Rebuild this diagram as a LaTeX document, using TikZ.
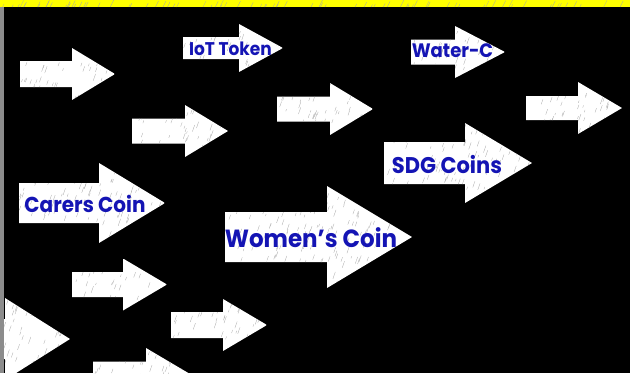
\documentclass[tikz,border=0pt]{standalone}
\usepackage{fontspec}
\setmainfont{Poppins}
\definecolor{bandyellow}{RGB}{255,255,0}
\definecolor{stripgray}{RGB}{140,140,140}
\definecolor{coinblue}{RGB}{20,20,180}
\tikzset{
  scratch/.style={draw=black!35, line width=0.3pt},
  coinlabel/.style={text=coinblue, font=\bfseries, inner sep=0pt, anchor=center, yscale=1.08},
}
% #1 tail x, #2 head base x, #3 tip x, #4 centre y, #5 shaft half height, #6 head half height
\newcommand\fatarrow[6]{%
  \begin{scope}
    \path[clip] (#1,#4-#5) -- (#2,#4-#5) -- (#2,#4-#6) -- (#3,#4) -- (#2,#4+#6) -- (#2,#4+#5) -- (#1,#4+#5) -- cycle;
    \fill[white] (#1,#4-#6) rectangle (#3,#4+#6);
    \pgfmathtruncatemacro\nscr{(#3-#1)*#6/45}
    \foreach \k in {1,...,\nscr}{%
      \pgfmathsetmacro\px{#1+rnd*(#3-#1)}%
      \pgfmathsetmacro\py{#4-#6+rnd*2*#6}%
      \pgfmathsetmacro\pl{2+rnd*5}%
      \draw[scratch] (\px,\py) -- ++(0.35*\pl,-\pl);
    }
  \end{scope}}
\begin{document}
\begin{tikzpicture}[x=1pt,y=-1pt]
\useasboundingbox (0,0) rectangle (630,373);
\clip (0,0) rectangle (630,373);
\pgfmathsetseed{7}
\fill[black] (0,0) rectangle (630,373);
% yellow band
\begin{scope}
  \clip (0,0) rectangle (630,7);
  \fill[bandyellow] (0,0) rectangle (630,7);
  \foreach \k in {1,...,80}{%
    \pgfmathsetmacro\px{rnd*630}%
    \pgfmathsetmacro\pl{2+rnd*5}%
    \draw[scratch] (\px,7) -- ++(0.5*\pl,-\pl);
  }
\end{scope}
% arrows
\fatarrow{20}{72}{115}{74}{13}{26}
\fatarrow{132}{185}{228}{131}{12.5}{26}
\fatarrow{183}{239}{283}{48}{11}{24}
\fatarrow{411}{455}{505}{52}{12.5}{26}
\fatarrow{277}{330}{373}{109}{12.5}{26}
\fatarrow{526}{578}{622}{108}{12}{26}
\fatarrow{384}{465}{532}{163}{21}{40}
\fatarrow{19}{99}{165}{203}{20}{40}
\fatarrow{225}{327}{412}{237}{25}{51}
\fatarrow{72}{123}{167}{284.5}{12.5}{26}
\fatarrow{171}{223}{267}{325}{13}{26}
\fatarrow{93}{146}{190}{374}{12.5}{26}
\fatarrow{-60}{5}{70}{339}{20}{41}
% left strip
\fill[stripgray] (0,7) rectangle (4,373);
% labels
\node[coinlabel, font=\bfseries\fontsize{17}{17}\selectfont] (iot) at (230.5,49) {IoT Token};
\node[coinlabel, font=\bfseries\fontsize{18}{18}\selectfont] (water) at (452.5,50.5) {Water-C};
\node[coinlabel, font=\bfseries\fontsize{21}{21}\selectfont] (sdg) at (447,165) {SDG Coins};
\node[coinlabel, font=\bfseries\fontsize{20}{20}\selectfont] (carers) at (85,203.5) {Carers Coin};
\node[coinlabel, font=\bfseries\fontsize{23}{23}\selectfont] (women) at (311,237.5) {Women’s Coin};
\end{tikzpicture}
\end{document}
